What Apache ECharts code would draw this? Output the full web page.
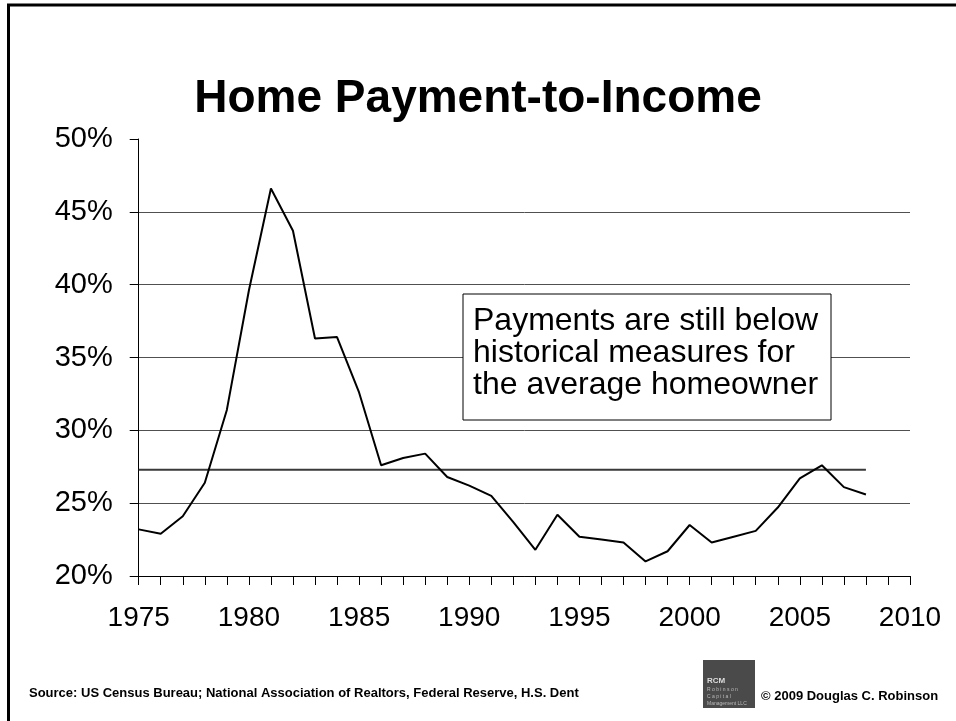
<!DOCTYPE html>
<html>
<head>
<meta charset="utf-8">
<script src="https://cdn.jsdelivr.net/npm/echarts@6/dist/echarts.min.js"></script>
<style>
html,body{margin:0;padding:0;background:#fff;}
#chart{width:956px;height:721px;}
</style>
</head>
<body>
<div id="chart"></div>
<script>
const years = [1975,1976,1977,1978,1979,1980,1981,1982,1983,1984,1985,1986,1987,1988,1989,1990,1991,1992,1993,1994,1995,1996,1997,1998,1999,2000,2001,2002,2003,2004,2005,2006,2007,2008];
const paymentToIncome = [23.2,22.9,24.1,26.4,31.4,39.6,46.6,43.7,36.3,36.4,32.6,27.6,28.1,28.4,26.8,26.2,25.5,23.7,21.8,24.2,22.7,22.5,22.3,21.0,21.7,23.5,22.3,22.7,23.1,24.7,26.7,27.6,26.1,25.6];
const historicalAverage = 27.3;
const xLabelYears = [1975,1980,1985,1990,1995,2000,2005,2010];
const yTicks = [20,25,30,35,40,45,50];

const FONT = "'Liberation Sans', Arial, sans-serif";
const chart = echarts.init(document.getElementById('chart'), null, {renderer:'canvas'});

const lineData = years.map((y,i)=>[y, paymentToIncome[i]]);
const avgData = years.map(y=>[y, historicalAverage]);

chart.setOption({
  backgroundColor:'#fff',
  animation:false,
  title:{
    text:'Home Payment-to-Income',
    left:'center',
    top:71,
    textStyle:{fontFamily:FONT,fontSize:46,fontWeight:'bold',color:'#000'}
  },
  grid:{left:138.7,right:46,top:139,bottom:145,containLabel:false},
  xAxis:{
    type:'value',
    min:1975,max:2010,interval:1,
    axisLine:{show:true,lineStyle:{color:'#000',width:1}},
    axisTick:{show:true,length:9,lineStyle:{color:'#000',width:1}},
    splitLine:{show:false},
    axisLabel:{
      margin:28,
      fontFamily:FONT,fontSize:28,color:'#000',
      formatter:v=> xLabelYears.indexOf(v)>=0 ? String(v) : ''
    }
  },
  yAxis:{
    type:'value',
    min:yTicks[0],max:yTicks[yTicks.length-1],interval:5,
    axisLine:{show:true,lineStyle:{color:'#000',width:1}},
    axisTick:{show:true,length:9,lineStyle:{color:'#000',width:1}},
    splitLine:{show:true,lineStyle:{color:['#000','#505050','#505050','#505050','#505050','#505050','rgba(0,0,0,0)'],width:1}},
    axisLabel:{margin:26,fontFamily:FONT,fontSize:29,color:'#000',formatter:'{value}%'}
  },
  series:[
    {
      type:'line',
      data:avgData,
      symbol:'none',
      lineStyle:{color:'#3a3a3a',width:2},
      z:2
    },
    {
      type:'line',
      data:lineData,
      symbol:'none',
      lineStyle:{color:'#000',width:2},
      z:3
    }
  ],
  graphic:[
    {type:'line',shape:{x1:7,y1:5,x2:956,y2:5},style:{stroke:'#000',lineWidth:3}},
    {type:'line',shape:{x1:8.5,y1:4,x2:8.5,y2:721},style:{stroke:'#000',lineWidth:3}},
    {type:'rect',shape:{x:463,y:294,width:368,height:126},style:{fill:'#fff',stroke:'#000',lineWidth:1},z:10},
    {type:'text',x:473,y:305,z:11,style:{
      text:'Payments are still below\nhistorical measures for\nthe average homeowner',
      font:'32px '+FONT,lineHeight:32,fill:'#000'}},
    {type:'text',x:29,y:687,style:{
      text:'Source: US Census Bureau; National Association of Realtors, Federal Reserve, H.S. Dent',
      font:'bold 13px '+FONT,fill:'#000'}},
    {type:'rect',shape:{x:703,y:660,width:52,height:48},style:{fill:'#4a4a4a'}},
    {type:'text',x:707,y:677,style:{text:'RCM',font:'bold 8px '+FONT,fill:'#ddd'}},
    {type:'text',x:707,y:687,style:{text:'R o b i n s o n',font:'5px '+FONT,fill:'#bbb'}},
    {type:'text',x:707,y:694,style:{text:'C a p i t a l',font:'5px '+FONT,fill:'#bbb'}},
    {type:'text',x:707,y:701,style:{text:'Management LLC',font:'5px '+FONT,fill:'#bbb'}},
    {type:'text',x:761,y:690,style:{text:'\u00A9 2009 Douglas C. Robinson',font:'bold 13px '+FONT,fill:'#000'}}
  ]
});
</script>
</body>
</html>
